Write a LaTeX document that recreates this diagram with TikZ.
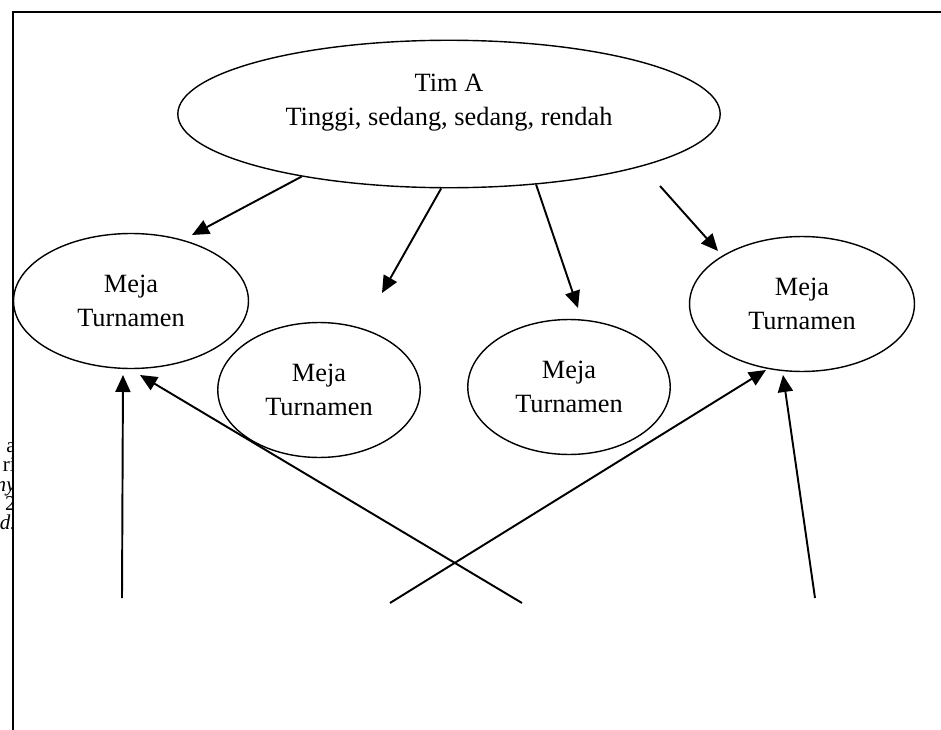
\documentclass[tikz,border=0pt]{standalone}
\usepackage{fontspec}
\setmainfont{Liberation Serif}
\usetikzlibrary{shapes.geometric,arrows.meta}

\begin{document}
\begin{tikzpicture}[x=0.02cm, y=-0.02cm, >={Triangle[length=0.34cm,width=0.3cm]},
	oval/.style={draw, ellipse, line width=0.8pt, inner sep=0pt, align=center,
		font=\fontsize{15}{19.5}\selectfont},
	link/.style={->, line width=1.1pt}]
	\useasboundingbox (0,0) rectangle (941,730);
	
	% frame
	\draw [line width=1.4pt] (941,12) -- (13,12) -- (13,730);
	
	% clipped text at the left border
	\begin{scope}
		\clip (0,430) rectangle (12,540);
		\foreach \t/\y in {a/452, ri/471, \textit{ny}/491, 2/510, \textit{d.}/529}
		\node [anchor=base east, inner sep=0pt, font=\fontsize{12}{14}\selectfont] (frag-\y) at (16,\y) {\t};
	\end{scope}
	
	\node [oval, minimum width=10.85cm, minimum height=2.95cm,
	text depth=0.58cm] (tim) at (449,114) {Tim A\\Tinggi, sedang, sedang, rendah};
	
	\foreach \n/\px/\py/\w in {1/131/301/4.7, 2/319/390/4.05, 3/569/387/4.05, 4/802/304/4.5}
	\node [oval, minimum width=\w cm, minimum height=2.7cm] (meja-\n) at (\px,\py) {Meja\\Turnamen};
	
	% arrow ends
	\foreach \n/\x/\y in {1/192/235, 2/382/293, 3/578/308, 4/718/251}
	\coordinate (top-\n) at (\x,\y);
	\coordinate (start-4) at (660,186);
	
	\draw [link] (tim.203.6) -- (top-1);
	\draw [link] (tim.264.5) -- (top-2);
	\draw [link] (tim.321) -- (top-3);
	\draw [link] (start-4) -- (top-4);
	
	\foreach \n/\ax/\ay/\bx/\by in {1/122/598/123/375, 2/522/603/140/375, 3/390/603/766/370, 4/815/598/783/375}
	{
		\coordinate (low-\n) at (\ax,\ay);
		\coordinate (tip-\n) at (\bx,\by);
		\draw [link] (low-\n) -- (tip-\n);
	}
	
\end{tikzpicture}
\end{document}
